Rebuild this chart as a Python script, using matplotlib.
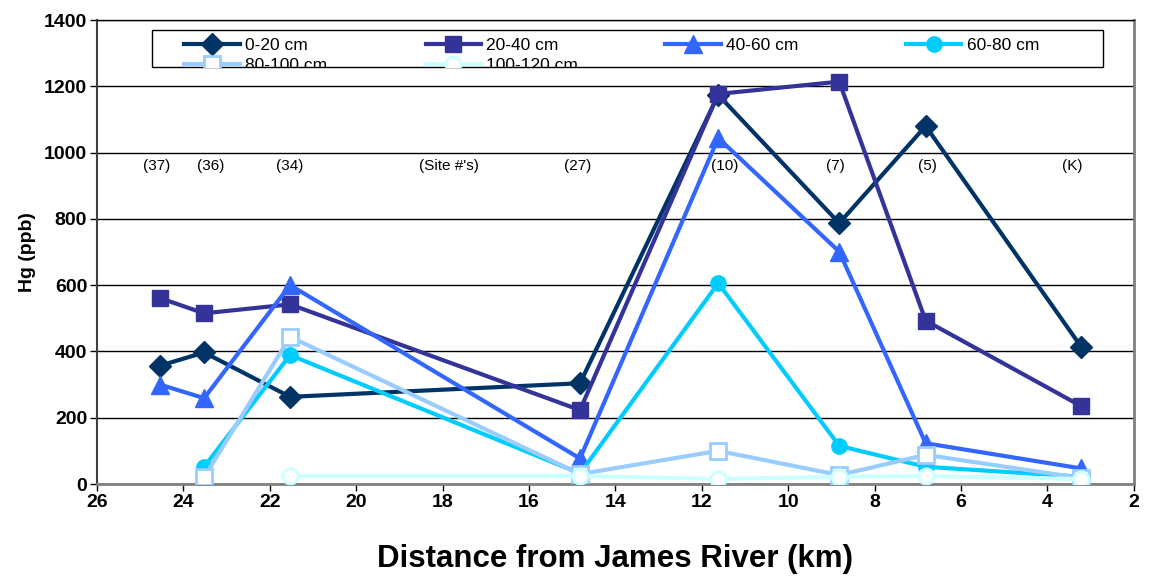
import numpy as np
import matplotlib
matplotlib.use("Agg")
from matplotlib import pyplot as plt
from matplotlib.patches import Rectangle
from matplotlib.legend import Legend

plt.rcParams['font.family'] = ['Liberation Sans', 'DejaVu Sans']

# distance of each site from the James River (km)
sites_km = [24.54, 23.52, 21.53, 14.82, 11.62, 8.82, 6.82, 3.22]

# Hg (ppb) by depth interval, nan = not sampled
hg_0_20 = [357, 397, 263, 304, 1174, 787, 1080, 414]
hg_20_40 = [561, 515, 542, 223, 1177, 1214, 493, 235]
hg_40_60 = [300, 259, 600, 77, 1044, 701, 123, 47]
hg_60_80 = [np.nan, 52, 389, 32, 606, 115, 52, 22]
hg_80_100 = [np.nan, 20, 444, 30, 100, 27, 88, 18]
hg_100_120 = [np.nan, np.nan, 25, 25, 15, 22, 24, 15]

depth_labels = ['0-20 cm', '20-40 cm', '40-60 cm', '60-80 cm', '80-100 cm', '100-120 cm']

# site numbers written across the plot
site_names = ['(37)', '(36)', '(34)', "(Site #'s)", '(27)', '(10)', '(7)', '(5)', '(K)']
site_name_x = [24.61, 23.36, 21.53, 17.85, 14.87, 11.46, 8.92, 6.79, 3.43]
site_name_y = 960

series = [hg_0_20, hg_20_40, hg_40_60, hg_60_80, hg_80_100, hg_100_120]
colors = ['#003366', '#333399', '#3366FF', '#00CCFF', '#99CCFF', '#CCFFFF']
markers = ['D', 's', '^', 'o', 's', 'o']
msizes = [11, 11, 13, 11, 11, 11]
faces = [None, None, None, None, 'white', 'white']

fig = plt.figure(figsize=(11.5, 5.8), dpi=100)
ax = fig.add_axes([0.0843, 0.1655, 0.9017, 0.80])

lines = []
for ys, lab, c, m, ms, fc in zip(series, depth_labels, colors, markers, msizes, faces):
    ln, = ax.plot(sites_km, ys, color=c, lw=3, marker=m, ms=ms,
                  markerfacecolor=fc if fc else c, markeredgecolor=c,
                  markeredgewidth=2 if fc else 1, label=lab, zorder=3)
    lines.append(ln)

for name, x in zip(site_names, site_name_x):
    ax.text(x, site_name_y, name, ha='center', va='center', fontsize=11)

ax.set_xlim(26, 2)
ax.set_ylim(0, 1400)
ax.set_xticks(np.arange(26, 1, -2))
ax.set_yticks(np.arange(0, 1401, 200))
ax.yaxis.grid(True, color='black', lw=1)
ax.set_axisbelow(True)
ax.tick_params(axis='both', direction='out', length=5, width=1, labelsize=14, pad=2)
for t in ax.get_xticklabels() + ax.get_yticklabels():
    t.set_fontweight('bold')

ax.spines['left'].set_color('#404040')
ax.spines['left'].set_linewidth(1.5)
ax.spines['bottom'].set_color('#808080')
ax.spines['bottom'].set_linewidth(2)
ax.spines['right'].set_color('#808080')
ax.spines['right'].set_linewidth(2)
ax.spines['top'].set_color('black')
ax.spines['top'].set_linewidth(1)

ax.set_xlabel('Distance from James River (km)', fontsize=22.5, fontweight='bold', labelpad=24)
ax.set_ylabel('Hg (ppb)', fontsize=14, fontweight='bold', labelpad=6)

# legend box: second row is cut off by the frame like in the original
box = Rectangle((0.053, 0.899), 0.917, 0.079, transform=ax.transAxes,
                facecolor='white', edgecolor='black', lw=1, zorder=4)
ax.add_patch(box)

# one small legend per column so the columns are evenly spaced
col_x = [0.084, 0.317, 0.548, 0.780]
for j, x in enumerate(col_x):
    idx = [i for i in (j, j + 4) if i < len(lines)]
    leg = Legend(ax, [lines[i] for i in idx], [depth_labels[i] for i in idx],
                 loc='upper left', bbox_to_anchor=(x, 0.962),
                 frameon=False, fontsize=12.5, handlelength=3.2, handletextpad=0.3,
                 labelspacing=0.3, borderpad=0, borderaxespad=0)
    leg.set_zorder(5)
    for a in leg.findobj():
        if a is not leg:
            a.set_clip_path(box)
    ax.add_artist(leg)

fig.savefig('out.png', dpi=100)
